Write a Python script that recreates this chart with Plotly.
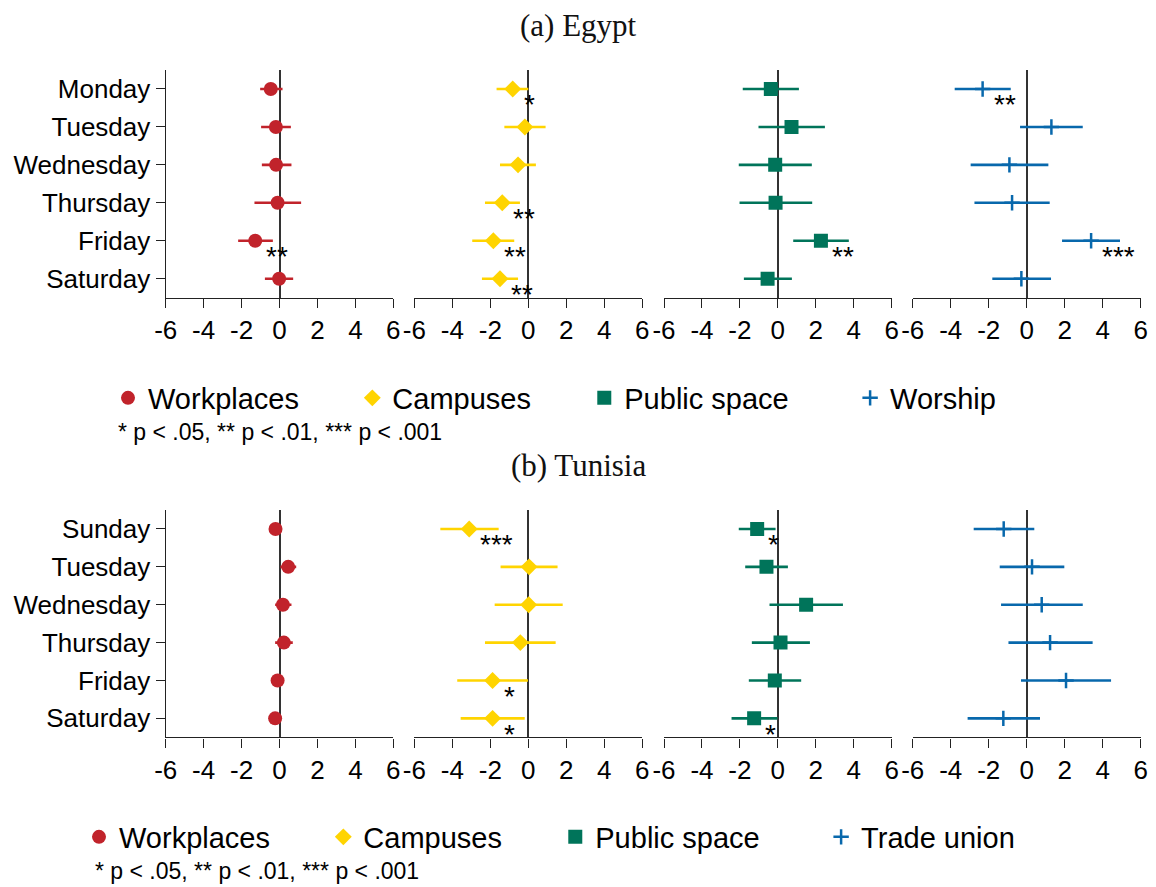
import plotly.graph_objects as go
from plotly.subplots import make_subplots

# Day categories
DAYS_EGYPT = ["Monday", "Tuesday", "Wednesday", "Thursday", "Friday", "Saturday"]
DAYS_TUNISIA = ["Sunday", "Tuesday", "Wednesday", "Thursday", "Friday", "Saturday"]

# Egypt estimates (point, lower CI, upper CI, stars)
EG_WORK_EST = [-0.46, -0.19, -0.18, -0.10, -1.28, -0.02]
EG_WORK_LO = [-1.02, -0.97, -0.93, -1.32, -2.18, -0.77]
EG_WORK_HI = [0.16, 0.60, 0.63, 1.14, -0.35, 0.72]
EG_WORK_SIG = ["", "", "", "", "**", ""]

EG_CAMP_EST = [-0.82, -0.18, -0.54, -1.37, -1.84, -1.49]
EG_CAMP_LO = [-1.67, -1.26, -1.49, -2.28, -2.95, -2.44]
EG_CAMP_HI = [0.00, 0.91, 0.40, -0.44, -0.74, -0.54]
EG_CAMP_SIG = ["*", "", "", "**", "**", "**"]

EG_PUB_EST = [-0.37, 0.72, -0.14, -0.12, 2.27, -0.54]
EG_PUB_LO = [-1.85, -1.02, -2.06, -2.02, 0.81, -1.79]
EG_PUB_HI = [1.11, 2.48, 1.79, 1.81, 3.74, 0.74]
EG_PUB_SIG = ["", "", "", "", "**", ""]

EG_WOR_EST = [-2.32, 1.30, -0.91, -0.77, 3.39, -0.28]
EG_WOR_LO = [-3.79, -0.35, -2.95, -2.75, 1.86, -1.81]
EG_WOR_HI = [-0.84, 2.95, 1.14, 1.21, 4.91, 1.28]
EG_WOR_SIG = ["**", "", "", "", "***", ""]

# Tunisia estimates
TN_WORK_EST = [-0.21, 0.46, 0.18, 0.23, -0.10, -0.23]
TN_WORK_LO = [-0.35, 0.05, -0.23, -0.23, -0.28, -0.40]
TN_WORK_HI = [-0.07, 0.88, 0.63, 0.70, 0.08, -0.06]
TN_WORK_SIG = ["", "", "", "", "", ""]

TN_CAMP_EST = [-3.11, 0.04, 0.02, -0.42, -1.88, -1.88]
TN_CAMP_LO = [-4.63, -1.46, -1.77, -2.28, -3.74, -3.56]
TN_CAMP_HI = [-1.56, 1.54, 1.81, 1.44, -0.02, -0.19]
TN_CAMP_SIG = ["***", "", "", "", "*", "*"]

TN_PUB_EST = [-1.09, -0.60, 1.49, 0.14, -0.16, -1.25]
TN_PUB_LO = [-2.06, -1.72, -0.44, -1.37, -1.53, -2.44]
TN_PUB_HI = [-0.12, 0.53, 3.43, 1.69, 1.23, -0.02]
TN_PUB_SIG = ["*", "", "", "", "", "*"]

TN_TU_EST = [-1.21, 0.28, 0.79, 1.23, 2.07, -1.23]
TN_TU_LO = [-2.79, -1.42, -1.35, -0.96, -0.30, -3.11]
TN_TU_HI = [0.40, 1.98, 2.95, 3.47, 4.44, 0.70]
TN_TU_SIG = ["", "", "", "", "", ""]

X_TICKS = [-6, -4, -2, 0, 2, 4, 6]

# colours / marker styles per column
RED = "#C1232B"
YELLOW = "#FFD400"
GREEN = "#00745A"
BLUE = "#0868AC"
STYLES = [
    dict(color=RED, symbol="circle", size=14),
    dict(color=YELLOW, symbol="diamond", size=13),
    dict(color=GREEN, symbol="square", size=14),
    dict(color=BLUE, symbol="cross-thin", size=11),
]
# trailing non-breaking spaces per column, to space the legend like the original
PADS = [6, 6, 7, 0]

# page body has an 8px margin, so the figure is a bit smaller than the window
OFF = 8
W, H = 1148, 879
FONT = "Liberation Sans, Arial, sans-serif"
SERIF = "Liberation Serif, Times New Roman, serif"


def fx(p):  # page pixel -> paper x
    return (p - OFF) / W


def fy(p):  # page pixel -> paper y
    return 1 - (p - OFF) / H


fig = make_subplots(rows=2, cols=4)

panels = [
    (1, DAYS_EGYPT, "legend", [
        ("Workplaces", EG_WORK_EST, EG_WORK_LO, EG_WORK_HI, EG_WORK_SIG),
        ("Campuses", EG_CAMP_EST, EG_CAMP_LO, EG_CAMP_HI, EG_CAMP_SIG),
        ("Public space", EG_PUB_EST, EG_PUB_LO, EG_PUB_HI, EG_PUB_SIG),
        ("Worship", EG_WOR_EST, EG_WOR_LO, EG_WOR_HI, EG_WOR_SIG),
    ]),
    (2, DAYS_TUNISIA, "legend2", [
        ("Workplaces", TN_WORK_EST, TN_WORK_LO, TN_WORK_HI, TN_WORK_SIG),
        ("Campuses", TN_CAMP_EST, TN_CAMP_LO, TN_CAMP_HI, TN_CAMP_SIG),
        ("Public space", TN_PUB_EST, TN_PUB_LO, TN_PUB_HI, TN_PUB_SIG),
        ("Trade union", TN_TU_EST, TN_TU_LO, TN_TU_HI, TN_TU_SIG),
    ]),
]

for row, days, leg, series in panels:
    for col, (name, est, lo, hi, sig) in enumerate(series, start=1):
        st = STYLES[col - 1]
        marker = dict(color=st["color"], symbol=st["symbol"], size=st["size"])
        if st["symbol"] == "cross-thin":
            marker["line"] = dict(color=st["color"], width=2.5)
        fig.add_trace(
            go.Scatter(
                x=est, y=days, mode="markers",
                name=name + "\u00a0" * PADS[col - 1],
                marker=marker, legend=leg,
                error_x=dict(type="data", symmetric=False,
                             array=[h - e for h, e in zip(hi, est)],
                             arrayminus=[e - l for e, l in zip(est, lo)],
                             color=st["color"], thickness=2.6, width=0),
            ),
            row=row, col=col,
        )
        # significance stars, lower-right of each estimate
        for xv, yv, s in zip(est, days, sig):
            if s:
                fig.add_annotation(
                    x=xv, y=yv, text=s, showarrow=False,
                    xref=f"x{(row - 1) * 4 + col}", yref=f"y{(row - 1) * 4 + col}",
                    xanchor="left", yanchor="middle", xshift=9, yshift=-16,
                    font=dict(size=28, color="black", family=FONT),
                )

# panel domains (page pixel positions from the original)
x_dom = [(165.7, 393.3), (414.3, 642.3), (664.0, 891.7), (912.7, 1140.7)]
y_dom = [(70.0, 297.7), (510.0, 737.3)]

for row in (1, 2):
    days = DAYS_EGYPT if row == 1 else DAYS_TUNISIA
    for col in (1, 2, 3, 4):
        i = (row - 1) * 4 + col
        xa = "xaxis" if i == 1 else f"xaxis{i}"
        ya = "yaxis" if i == 1 else f"yaxis{i}"
        x0, x1 = x_dom[col - 1]
        t, b = y_dom[row - 1]
        fig.layout[xa].update(
            domain=[fx(x0), fx(x1)], range=[-6, 6], tickvals=X_TICKS,
            ticktext=[str(v) for v in X_TICKS], showgrid=False,
            zeroline=True, zerolinecolor="#333", zerolinewidth=1.5,
            showline=True, linecolor="#222", linewidth=1.4,
            ticks="outside", ticklen=9, tickwidth=1.4, tickcolor="#222",
            tickfont=dict(size=26, color="black", family=FONT),
            automargin=False, fixedrange=True,
        )
        fig.layout[ya].update(
            domain=[fy(b), fy(t)], type="category",
            categoryorder="array", categoryarray=days,
            range=[5.5, -0.5], showgrid=False, zeroline=False,
            showline=(col == 1), linecolor="#222", linewidth=1.4,
            ticks="outside" if col == 1 else "", ticklen=9, tickwidth=1.4,
            tickcolor="#222", showticklabels=(col == 1),
            tickfont=dict(size=26, color="black", family=FONT),
            automargin=False, fixedrange=True,
        )

# panel titles
for text, ypx in [("(a) Egypt", 25), ("(b) Tunisia", 465)]:
    fig.add_annotation(
        x=fx(578), y=fy(ypx), xref="paper", yref="paper", text=text,
        showarrow=False, xanchor="center", yanchor="middle",
        font=dict(size=31, color="#111", family=SERIF),
    )

# significance notes under the legends
NOTE = "* p < .05, ** p < .01, *** p < .001"
for xpx, ypx in [(116, 432), (93, 871)]:
    fig.add_annotation(
        x=fx(xpx), y=fy(ypx), xref="paper", yref="paper", text=NOTE,
        showarrow=False, xanchor="left", yanchor="middle",
        font=dict(size=23, color="black", family=FONT),
    )

leg_style = dict(orientation="h", xanchor="left", yanchor="middle",
                 bgcolor="rgba(0,0,0,0)", itemclick=False, itemdoubleclick=False,
                 font=dict(size=29, color="black", family=FONT))
fig.update_layout(
    width=W, height=H,
    margin=dict(l=0, r=0, t=0, b=0),
    plot_bgcolor="white", paper_bgcolor="white",
    font=dict(family=FONT, color="black"),
    legend=dict(x=fx(108), y=fy(398), **leg_style),
    legend2=dict(x=fx(79), y=fy(837), **leg_style),
    hovermode="closest",
)

fig.write_html("out.html")
